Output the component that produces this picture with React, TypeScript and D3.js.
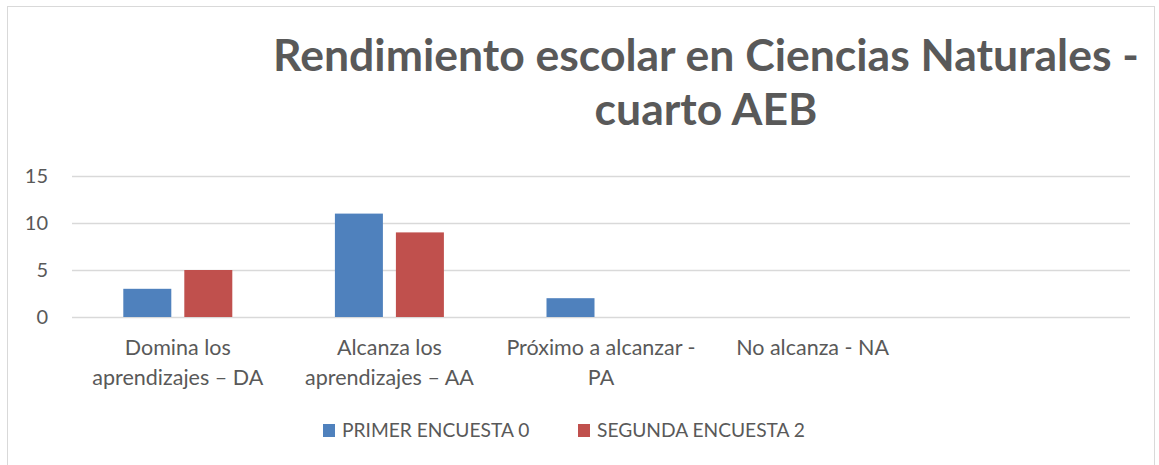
import React from "react";
import * as d3 from "d3";

const categories = [
  "Domina los aprendizajes – DA",
  "Alcanza los aprendizajes – AA",
  "Próximo a alcanzar - PA",
  "No alcanza - NA",
  "",
];
const categoryLines = [
  ["Domina los", "aprendizajes – DA"],
  ["Alcanza los", "aprendizajes – AA"],
  ["Próximo a alcanzar -", "PA"],
  ["No alcanza - NA"],
  [],
];
const seriesNames = ["PRIMER ENCUESTA 0", "SEGUNDA ENCUESTA 2"];
const primer = [3, 11, 2, 0, null];
const segunda = [5, 9, 0, 0, null];
const yTicks = [0, 5, 10, 15];
const titleLines = ["Rendimiento escolar en Ciencias Naturales -", "cuarto AEB"];

const colors = ["#4F81BD", "#C0504D"];
const textColor = "#595959";
const font = "Lato, 'Open Sans', sans-serif";

export default function App() {
  const W = 1159;
  const H = 465;
  const x0 = d3.scaleBand<string>().domain(categories.map((c, i) => String(i))).range([72, 1130]).paddingInner(0).paddingOuter(0);
  const x1 = d3.scaleBand<string>().domain(seriesNames).range([0, x0.bandwidth()]).paddingInner(13 / 61).paddingOuter(0.841);
  const y = d3.scaleLinear().domain([0, 15]).range([317, 176]);
  const data = [primer, segunda];

  return (
    <svg width={W} height={H} style={{ position: "absolute", left: 0, top: 0, display: "block", background: "#fff" }} fontFamily={font}>
      <rect x={7.5} y={6.5} width={1147} height={470} fill="#fff" stroke="#D9D9D9" strokeWidth={1} />
      {titleLines.map((t, i) => (
        <text key={i} x={706} y={71 + i * 54} textAnchor="middle" fontSize={44.5} fontWeight="bold" fill={textColor}>
          {t}
        </text>
      ))}
      {yTicks.map((t) => (
        <g key={t}>
          <line x1={72} x2={1130} y1={Math.round(y(t)) + 0.5} y2={Math.round(y(t)) + 0.5} stroke="#D9D9D9" strokeWidth={1.5} />
          <text x={48} y={y(t) + 7} textAnchor="end" fontSize={20} fill={textColor}>
            {t}
          </text>
        </g>
      ))}
      {data.map((series, si) =>
        series.map((v, ci) =>
          v == null || v === 0 ? null : (
            <rect
              key={`${si}-${ci}`}
              x={(x0(String(ci)) as number) + (x1(seriesNames[si]) as number)}
              y={y(v)}
              width={x1.bandwidth()}
              height={y(0) - y(v)}
              fill={colors[si]}
            />
          )
        )
      )}
      {categoryLines.map((lines, ci) =>
        lines.map((l, li) => (
          <text
            key={`${ci}-${li}`}
            x={(x0(String(ci)) as number) + x0.bandwidth() / 2}
            y={355 + li * 30}
            textAnchor="middle"
            fontSize={21.5}
            fill={textColor}
          >
            {l}
          </text>
        ))
      )}
      {seriesNames.map((s, i) => {
        const lx = [323, 578][i];
        return (
          <g key={s}>
            <rect x={lx} y={424} width={12} height={13} fill={colors[i]} />
            <text x={lx + 19} y={437} fontSize={19.2} fill={textColor}>
              {s}
            </text>
          </g>
        );
      })}
    </svg>
  );
}
